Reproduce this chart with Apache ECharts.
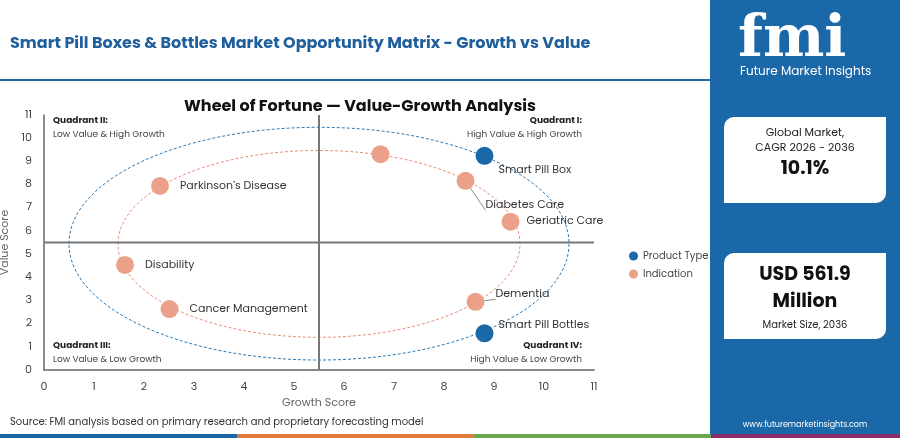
<!DOCTYPE html>
<html><head><meta charset="utf-8">
<script src="https://cdn.jsdelivr.net/npm/echarts@6/dist/echarts.min.js"></script>
<style>html,body{margin:0;padding:0;background:#fff}#c{width:900px;height:438px}</style>
</head><body><div id="c"></div>
<script>
const productNames = ['Smart Pill Box', 'Smart Pill Bottles'];
const productGrowth = [8.81, 8.81];
const productValue = [9.24, 1.58];
const indicationNames = ['', 'Diabetes Care', 'Geriatric Care', "Parkinson's Disease", 'Disability', 'Cancer Management', 'Dementia'];
const indicationGrowth = [6.73, 8.43, 9.33, 2.32, 1.62, 2.51, 8.63];
const indicationValue = [9.31, 8.16, 6.40, 7.94, 4.53, 2.63, 2.94];
const axisTicks = [0,1,2,3,4,5,6,7,8,9,10,11];
const midPoint = 5.5;
const ellipses = [[5.5, 5.45, 5, 5.02, '#2a7ab8'], [5.5, 5.44, 4.02, 4.03, '#e8907a']];

const BLUE = '#1a68a8', SALMON = '#eba08a';
const chart = echarts.init(document.getElementById('c'));
const font = 'Poppins, "Noto Sans", sans-serif';
function lbl(dx, dy, line) { return {dx, dy, line}; }
const indLbl = [null, lbl(6,24,true), lbl(2,0), lbl(6,0), lbl(6,0), lbl(6,0), lbl(6,-8,true)];
const prodLbl = [lbl(0,14), lbl(0,-8)];
function mk(names, xs, ys, lbls) {
  return names.map((n,i)=>{
    const o = {value:[xs[i], ys[i]], name:n};
    if (lbls[i]) {
      o.label = {show:true, position:'right', offset:[lbls[i].dx, lbls[i].dy], formatter:n, color:'#333', fontSize:11, fontFamily:font};
      if (lbls[i].line) o.labelLine = {show:true, lineStyle:{color:'#888', width:1}};
    } else o.label = {show:false};
    return o;
  });
}
chart.setOption({
  animation:false,
  title:{text:'Wheel of Fortune — Value-Growth Analysis', left:355, top:94, textAlign:'center',
    textStyle:{fontSize:16, fontWeight:'bold', color:'#111', fontFamily:font}},
  legend:{orient:'vertical', left:624, top:246, itemGap:8, icon:'circle', itemWidth:9, itemHeight:9,
    textStyle:{fontSize:10, color:'#444', fontFamily:font},
    data:['Product Type','Indication']},
  grid:{left:44, right:306, top:115, bottom:68, containLabel:false, outerBoundsMode:'none'},
  xAxis:{type:'value', min:0, max:11, interval:1, name:'Growth Score', nameLocation:'middle', nameGap:21,
    nameTextStyle:{color:'#666', fontSize:11, fontFamily:font},
    axisLine:{show:true, lineStyle:{color:'#666', width:1.5}}, axisTick:{show:false}, splitLine:{show:false},
    axisLabel:{color:'#444', fontSize:11, fontFamily:font, margin:12, formatter:v=>axisTicks.includes(v)?String(v):''}},
  yAxis:{type:'value', min:0, max:11, interval:1, name:'Value Score', nameLocation:'middle', nameGap:26,
    nameTextStyle:{color:'#666', fontSize:11, fontFamily:font},
    axisLine:{show:true, lineStyle:{color:'#666', width:1.5}}, axisTick:{show:false}, splitLine:{show:false},
    axisLabel:{color:'#444', fontSize:11, fontFamily:font, margin:12}},
  graphic:[
    {type:'text', left:10, top:36, style:{text:'Smart Pill Boxes & Bottles Market Opportunity Matrix - Growth vs Value', fill:'#1f5f9c', font:'bold 16px '+font}},
    {type:'rect', shape:{x:0, y:79, width:710, height:2}, style:{fill:'#1a68a8'}},
    {type:'rect', shape:{x:710, y:0, width:190, height:438}, style:{fill:'#1a68a8'}},
    {type:'text', left:738, top:12, style:{text:'fmi', fill:'#fff', font:'bold 58px "DejaVu Serif", serif'}},
    {type:'text', left:740, top:66, style:{text:'Future Market Insights', fill:'#fff', font:'12px '+font}},
    {type:'rect', shape:{x:724, y:117, width:162, height:86, r:[10,0,10,0]}, style:{fill:'#fff'}},
    {type:'text', x:805, y:126, style:{text:'Global Market,\nCAGR 2026 - 2036', fill:'#222', font:'11px '+font, align:'center', lineHeight:15}},
    {type:'text', x:805, y:160, style:{text:'10.1%', fill:'#111', font:'bold 19px '+font, align:'center'}},
    {type:'rect', shape:{x:724, y:253, width:162, height:86, r:[10,0,10,0]}, style:{fill:'#fff'}},
    {type:'text', x:805, y:262, style:{text:'USD 561.9\nMillion', fill:'#111', font:'bold 19px '+font, align:'center', lineHeight:27}},
    {type:'text', x:805, y:320, style:{text:'Market Size, 2036', fill:'#222', font:'10px '+font, align:'center'}},
    {type:'text', x:805, y:421, style:{text:'www.futuremarketinsights.com', fill:'#fff', font:'8px '+font, align:'center'}},
    {type:'text', left:10, top:417, style:{text:'Source: FMI analysis based on primary research and proprietary forecasting model', fill:'#333', font:'10px '+font}},
    {type:'rect', shape:{x:0, y:434, width:237, height:4}, style:{fill:'#1a68a8'}},
    {type:'rect', shape:{x:237, y:434, width:237, height:4}, style:{fill:'#e07a3a'}},
    {type:'rect', shape:{x:474, y:434, width:237, height:4}, style:{fill:'#6aa84f'}},
    {type:'rect', shape:{x:711, y:434, width:189, height:4}, style:{fill:'#8a2c6c'}},
    {type:'text', left:53, top:116, style:{text:'Quadrant II:', fill:'#222', font:'bold 9px '+font}},
    {type:'text', left:53, top:130, style:{text:'Low Value & High Growth', fill:'#444', font:'9px '+font}},
    {type:'text', right:318, top:116, style:{text:'Quadrant I:', fill:'#222', font:'bold 9px '+font, align:'right'}},
    {type:'text', right:318, top:130, style:{text:'High Value & High Growth', fill:'#444', font:'9px '+font, align:'right'}},
    {type:'text', left:53, top:341, style:{text:'Quadrant III:', fill:'#222', font:'bold 9px '+font}},
    {type:'text', left:53, top:355, style:{text:'Low Value & Low Growth', fill:'#444', font:'9px '+font}},
    {type:'text', right:318, top:341, style:{text:'Quadrant IV:', fill:'#222', font:'bold 9px '+font, align:'right'}},
    {type:'text', right:318, top:355, style:{text:'High Value & Low Growth', fill:'#444', font:'9px '+font, align:'right'}}
  ],
  series:[
    {type:'custom', silent:true, z:1, data:ellipses.map(e=>e.slice(0,4)),
      renderItem:(p,api)=>{
        const e = ellipses[p.dataIndex];
        const c = api.coord([e[0], e[1]]);
        const a = api.coord([e[0]+e[2], e[1]+e[3]]);
        return {type:'ellipse', shape:{cx:c[0], cy:c[1], rx:Math.abs(a[0]-c[0]), ry:Math.abs(c[1]-a[1])},
          style:{fill:'none', stroke:e[4], lineWidth:1, lineDash:[3,2]}};
      }},
    {type:'line', silent:true, symbol:'none', z:2, data:[[midPoint,0],[midPoint,11]], lineStyle:{color:'#777', width:2}},
    {type:'line', silent:true, symbol:'none', z:2, data:[[0,midPoint],[11,midPoint]], lineStyle:{color:'#777', width:2}},
    {name:'Indication', type:'scatter', z:5, symbolSize:18, itemStyle:{color:SALMON, opacity:1},
      data:mk(indicationNames, indicationGrowth, indicationValue, indLbl)},
    {name:'Product Type', type:'scatter', z:6, symbolSize:18, itemStyle:{color:BLUE, opacity:1},
      data:mk(productNames, productGrowth, productValue, prodLbl)}
  ]
});
</script></body></html>
